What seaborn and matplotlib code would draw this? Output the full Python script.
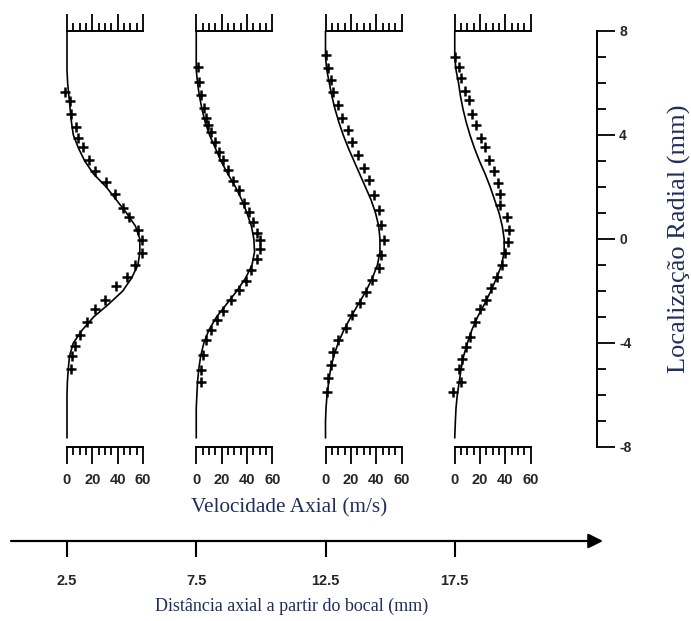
import numpy as np
import matplotlib
matplotlib.use("Agg")
import matplotlib.pyplot as plt
from matplotlib.ticker import MultipleLocator, FixedLocator
import seaborn as sns

# --- data -----------------------------------------------------------------
# axial stations (mm from the nozzle)
AXIAL_STATIONS = [2.5, 7.5, 12.5, 17.5]
AXIAL_LABELS = ["2.5", "7.5", "12.5", "17.5"]

# radial grid for the computed profiles (mm)
R_MODEL = [8.0, 7.0, 6.5, 6.0, 5.5, 5.0, 4.5, 4.0, 3.5, 3.0, 2.5, 2.0, 1.5, 1.0,
           0.5, 0.0, -0.5, -1.0, -1.5, -2.0, -2.5, -3.0, -3.5, -4.0, -4.5,
           -5.0, -5.5, -6.0, -6.5, -7.0, -7.65]

# computed axial velocity (m/s) at each station
V_MODEL_1 = [0, 0, 0, 0.5, 1.5, 2.5, 3.5, 5, 9, 14, 21, 31, 39, 47, 54, 57.5,
             57.5, 56, 51, 44, 33, 21, 12, 5, 2, 1, 0.3, 0, 0, 0, 0]
V_MODEL_2 = [0, 0, 0, 1, 2.5, 4.5, 7, 10.5, 15, 19.5, 25, 31, 36, 40, 43.5,
             45.5, 46, 44, 39, 32, 24, 16, 10, 6, 3.5, 2, 1, 0.5, 0, 0, 0]
V_MODEL_3 = [0, 0, 1, 3, 5, 7.5, 10.5, 14, 18, 22.5, 27, 31.5, 36, 39.5, 42,
             43, 43, 41, 37, 32, 26, 20, 14.5, 10, 6.5, 4, 2.5, 1.2, 0.4, 0, 0]
V_MODEL_4 = [0, 0, 1, 3, 4.5, 6.5, 9, 12, 15.5, 19.5, 24, 28, 31.5, 35, 37.5,
             39, 39, 37, 33, 28.5, 23.5, 18, 13.5, 10, 7, 5, 3.5, 2, 1, 0.5, 0]

# measured points (radial position mm, axial velocity m/s)
R_EXP_1 = [5.65, 5.3, 4.8, 4.3, 3.9, 3.55, 3.05, 2.6, 2.2, 1.75, 1.2, 0.85,
           0.35, -0.05, -0.55, -1.0, -1.45, -1.8, -2.35, -2.7, -3.2, -3.7,
           -4.1, -4.5, -5.0]
V_EXP_1 = [-1.5, 2, 3, 7, 9, 13, 17, 22, 31, 38, 44, 49, 56, 59, 59, 54, 47,
           39, 30, 22, 15.5, 10, 6, 4, 3]

R_EXP_2 = [6.6, 6.05, 5.55, 5.05, 4.65, 4.4, 4.1, 3.75, 3.35, 3.05, 2.65,
           2.25, 1.9, 1.4, 1.05, 0.65, 0.25, -0.05, -0.4, -0.75, -1.2, -1.6,
           -1.95, -2.35, -2.75, -3.1, -3.5, -3.9, -4.45, -5.05, -5.5]
V_EXP_2 = [1, 2.4, 4, 6, 8, 9.5, 12, 15, 18, 21, 25, 29, 34, 38, 42, 45, 48,
           50, 50, 48, 43, 39.5, 34, 27.5, 21, 16, 12, 8, 5.5, 4, 4]

R_EXP_3 = [7.08, 6.58, 6.12, 5.65, 5.15, 4.65, 4.2, 3.73, 3.23, 2.73, 2.27,
           1.7, 1.12, 0.54, -0.04, -0.62, -1.12, -1.58, -2.04, -2.46, -2.92,
           -3.42, -3.88, -4.35, -4.85, -5.35, -5.9]
V_EXP_3 = [0, 1.6, 4, 6.3, 9.5, 13.4, 17.4, 21.3, 26, 30, 34, 38, 42, 44, 46,
           44, 42, 37, 32, 27.6, 21.3, 15.8, 10, 6.3, 4, 1.6, 0.8]

R_EXP_4 = [7.0, 6.6, 6.2, 5.7, 5.35, 4.8, 4.4, 3.9, 3.55, 3.05, 2.6, 2.15,
           1.75, 1.3, 0.85, 0.35, -0.1, -0.55, -1.0, -1.45, -1.9, -2.35, -2.7,
           -3.2, -3.75, -4.15, -4.6, -5.0, -5.5, -5.9]
V_EXP_4 = [0, 3, 5, 8, 11, 14, 17, 21, 24, 27, 31, 34, 36, 36, 41, 43, 42, 40,
           37, 33, 29, 25, 20, 16, 12, 9, 6, 3, 5, -1]

V_MODEL = [V_MODEL_1, V_MODEL_2, V_MODEL_3, V_MODEL_4]
R_EXP = [R_EXP_1, R_EXP_2, R_EXP_3, R_EXP_4]
V_EXP = [V_EXP_1, V_EXP_2, V_EXP_3, V_EXP_4]

VEL_TICKS = [0, 20, 40, 60]
RAD_TICKS = [-8, -4, 0, 4, 8]

# --- style ------------------------------------------------------------------
sns.set_style("white")
plt.rcParams["font.family"] = ["Liberation Sans", "DejaVu Sans"]
TICK_FONT = dict(family=["Liberation Sans", "DejaVu Sans"], weight="bold", size=10.5)
LABEL_COLOR = "#1f2d5c"
SERIF = ["Liberation Serif", "DejaVu Serif"]

W, H, DPI = 691, 621, 100
fig = plt.figure(figsize=(W / DPI, H / DPI), dpi=DPI)
fig.patch.set_facecolor("white")

def fx(px):
    return px / W

def fy(py):
    return 1 - py / H

# --- axial distance axis with arrow ---------------------------------------
px_per_mm = 25.85
x0_px = 67
ax_d = fig.add_axes([0, fy(541), 1, 0.05])
ax_d.set_xlim(2.5 - x0_px / px_per_mm, 2.5 + (W - x0_px) / px_per_mm)
ax_d.set_ylim(0, 1)
ax_d.patch.set_alpha(0)
for s in ax_d.spines.values():
    s.set_visible(False)
ax_d.set_yticks([])
ax_d.set_xticks(AXIAL_STATIONS)
ax_d.set_xticklabels(AXIAL_LABELS, fontdict=TICK_FONT)
ax_d.tick_params(axis="x", bottom=True, direction="out", length=11.5,
                 width=1.5, pad=12, color="k")
ax_d.annotate("", xy=(2.5 + (603 - x0_px) / px_per_mm, 0),
              xytext=(2.5 + (11 - x0_px) / px_per_mm, 0),
              xycoords="data", textcoords="data", annotation_clip=False,
              arrowprops=dict(arrowstyle="-|>", color="k", lw=1.6,
                              mutation_scale=22, shrinkA=0, shrinkB=0))

fig.canvas.draw()

# --- velocity profile panels ----------------------------------------------
top_px, bot_px = 31, 447
panel_w_px = 76
for i, d in enumerate(AXIAL_STATIONS):
    disp_x = ax_d.transData.transform((d, 0))[0]
    left = disp_x / (fig.get_figwidth() * fig.dpi)
    ax = fig.add_axes([left, fy(bot_px), fx(panel_w_px), (bot_px - top_px) / H])
    ax.patch.set_alpha(0)
    sns.lineplot(x=V_MODEL[i], y=R_MODEL, sort=False, estimator=None,
                 color="k", lw=1.2, ax=ax)
    sns.scatterplot(x=V_EXP[i], y=R_EXP[i], marker="+", s=60, color="k",
                    linewidth=1.8, ax=ax, zorder=3)
    for art in ax.lines + ax.collections:
        art.set_clip_on(False)
    ax.set_xlim(0, 60)
    ax.set_ylim(-8, 8)
    ax.spines["left"].set_visible(False)
    ax.spines["right"].set_visible(False)
    for side in ("top", "bottom"):
        ax.spines[side].set_linewidth(1.4)
        ax.spines[side].set_color("k")
    ax.set_yticks([])
    ax.xaxis.set_major_locator(FixedLocator(VEL_TICKS))
    ax.xaxis.set_minor_locator(MultipleLocator(5))
    ax.set_xticklabels([str(t) for t in VEL_TICKS], fontdict=TICK_FONT)
    ax.tick_params(axis="x", which="both", top=True, bottom=True,
                   direction="out", labeltop=False, labelbottom=True,
                   color="k", width=1.3)
    ax.tick_params(axis="x", which="major", length=12, pad=7)
    ax.tick_params(axis="x", which="minor", length=6)
    ax.set_xlabel("")
    ax.set_ylabel("")

# --- radial scale on the right ---------------------------------------------
ax_r = fig.add_axes([fx(597 - 10), fy(bot_px), fx(10), (bot_px - top_px) / H])
ax_r.patch.set_alpha(0)
ax_r.set_ylim(-8, 8)
ax_r.set_xticks([])
for side in ("left", "top", "bottom"):
    ax_r.spines[side].set_visible(False)
ax_r.spines["right"].set_linewidth(1.4)
ax_r.spines["right"].set_color("k")
ax_r.yaxis.set_major_locator(FixedLocator(RAD_TICKS))
ax_r.yaxis.set_minor_locator(MultipleLocator(1))
ax_r.set_yticklabels([str(t) for t in RAD_TICKS], fontdict=dict(TICK_FONT, size=10))
ax_r.tick_params(axis="y", which="both", left=False, right=True,
                 labelleft=False, labelright=True, direction="out",
                 color="k", width=1.3)
ax_r.tick_params(axis="y", which="major", length=13, pad=3)
ax_r.tick_params(axis="y", which="minor", length=6.5)

# --- axis titles -------------------------------------------------------------
fig.text(fx(289), fy(508), "Velocidade Axial (m/s)", ha="center", va="center",
         family=SERIF, size=15.3, color=LABEL_COLOR)
fig.text(fx(292), fy(606), "Distância axial a partir do bocal (mm)",
         ha="center", va="center", family=SERIF, size=13, color=LABEL_COLOR)
fig.text(fx(679), fy(239), "Localização Radial (mm)", ha="center",
         va="center", rotation=90, family=SERIF, size=19, color=LABEL_COLOR)

fig.savefig("out.png", dpi=DPI, facecolor="white")
